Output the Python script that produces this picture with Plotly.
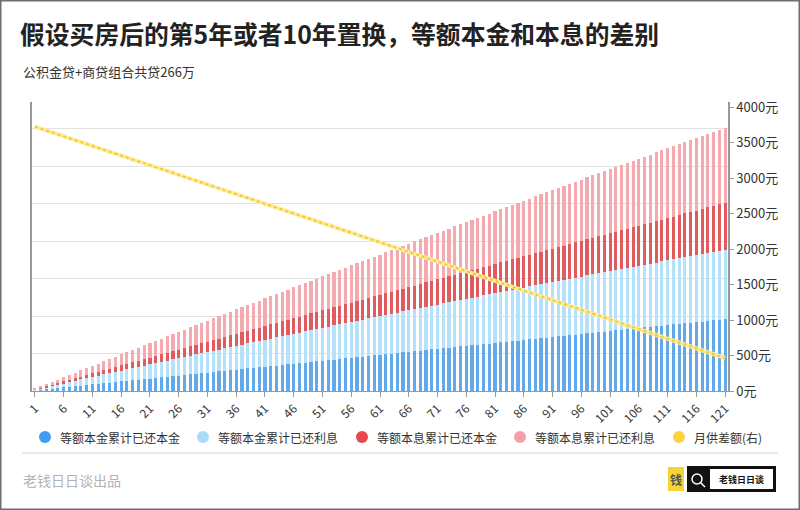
import plotly.graph_objects as go

# ---------------- data ----------------
months = list(range(1, 122))
tick_months = [1, 6, 11, 16, 21, 26, 31, 36, 41, 46, 51, 56, 61, 66, 71, 76, 81, 86, 91, 96,
               101, 106, 111, 116, 121]

# 等额本金累计已还本金 (万元)
ep_principal = [
    0.8, 1.6, 2.4, 3.2, 4.0, 4.8, 5.5, 6.3, 7.1, 7.9,
    8.7, 9.5, 10.3, 11.1, 11.9, 12.7, 13.5, 14.3, 15.0, 15.8,
    16.6, 17.4, 18.2, 19.0, 19.8, 20.6, 21.4, 22.2, 23.0, 23.8,
    24.5, 25.3, 26.1, 26.9, 27.7, 28.5, 29.3, 30.1, 30.9, 31.7,
    32.5, 33.3, 34.0, 34.8, 35.6, 36.4, 37.2, 38.0, 38.8, 39.6,
    40.4, 41.2, 42.0, 42.8, 43.5, 44.3, 45.1, 45.9, 46.7, 47.5,
    48.3, 49.1, 49.9, 50.7, 51.5, 52.3, 53.0, 53.8, 54.6, 55.4,
    56.2, 57.0, 57.8, 58.6, 59.4, 60.2, 61.0, 61.8, 62.5, 63.3,
    64.1, 64.9, 65.7, 66.5, 67.3, 68.1, 68.9, 69.7, 70.5, 71.3,
    72.0, 72.8, 73.6, 74.4, 75.2, 76.0, 76.8, 77.6, 78.4, 79.2,
    80.0, 80.8, 81.5, 82.3, 83.1, 83.9, 84.7, 85.5, 86.3, 87.1,
    87.9, 88.7, 89.5, 90.3, 91.0, 91.8, 92.6, 93.4, 94.2, 95.0,
    95.8]

# 等额本金累计已还利息 (万元)
ep_interest = [
    0.9, 1.9, 2.8, 3.7, 4.6, 5.5, 6.5, 7.4, 8.3, 9.2,
    10.1, 11.0, 11.9, 12.8, 13.7, 14.5, 15.4, 16.3, 17.2, 18.1,
    18.9, 19.8, 20.7, 21.5, 22.4, 23.3, 24.1, 25.0, 25.8, 26.7,
    27.5, 28.4, 29.2, 30.1, 30.9, 31.7, 32.6, 33.4, 34.2, 35.0,
    35.8, 36.7, 37.5, 38.3, 39.1, 39.9, 40.7, 41.5, 42.3, 43.1,
    43.9, 44.7, 45.5, 46.2, 47.0, 47.8, 48.6, 49.3, 50.1, 50.9,
    51.6, 52.4, 53.2, 53.9, 54.7, 55.4, 56.2, 56.9, 57.7, 58.4,
    59.1, 59.9, 60.6, 61.3, 62.0, 62.8, 63.5, 64.2, 64.9, 65.6,
    66.3, 67.0, 67.7, 68.4, 69.1, 69.8, 70.5, 71.2, 71.9, 72.6,
    73.3, 73.9, 74.6, 75.3, 76.0, 76.6, 77.3, 78.0, 78.6, 79.3,
    79.9, 80.6, 81.2, 81.9, 82.5, 83.1, 83.8, 84.4, 85.0, 85.7,
    86.3, 86.9, 87.5, 88.2, 88.8, 89.4, 90.0, 90.6, 91.2, 91.8,
    92.4]

# 等额本息累计已还本金 (万元)
ea_principal = [
    0.4, 0.8, 1.3, 1.7, 2.1, 2.5, 3.0, 3.4, 3.8, 4.2,
    4.7, 5.1, 5.6, 6.0, 6.4, 6.9, 7.3, 7.7, 8.2, 8.6,
    9.1, 9.5, 10.0, 10.4, 10.9, 11.3, 11.8, 12.3, 12.7, 13.2,
    13.6, 14.1, 14.6, 15.0, 15.5, 16.0, 16.5, 16.9, 17.4, 17.9,
    18.4, 18.8, 19.3, 19.8, 20.3, 20.8, 21.3, 21.8, 22.3, 22.7,
    23.2, 23.7, 24.3, 24.8, 25.3, 25.8, 26.3, 26.8, 27.3, 27.8,
    28.3, 28.8, 29.3, 29.9, 30.4, 30.9, 31.4, 32.0, 32.5, 33.0,
    33.5, 34.1, 34.6, 35.2, 35.7, 36.2, 36.8, 37.3, 37.9, 38.4,
    39.0, 39.5, 40.1, 40.7, 41.2, 41.8, 42.3, 42.9, 43.5, 44.0,
    44.6, 45.2, 45.8, 46.3, 46.9, 47.5, 48.1, 48.7, 49.2, 49.8,
    50.4, 51.0, 51.6, 52.2, 52.8, 53.4, 54.0, 54.6, 55.2, 55.8,
    56.4, 57.1, 57.7, 58.3, 58.9, 59.5, 60.2, 60.8, 61.4, 62.0,
    62.7]

# 等额本息累计已还利息 (万元)
ea_interest = [
    0.9, 1.9, 2.8, 3.7, 4.6, 5.6, 6.5, 7.4, 8.3, 9.2,
    10.1, 11.0, 12.0, 12.9, 13.8, 14.7, 15.6, 16.5, 17.4, 18.3,
    19.2, 20.1, 21.0, 21.9, 22.8, 23.7, 24.6, 25.5, 26.3, 27.2,
    28.1, 29.0, 29.9, 30.7, 31.6, 32.5, 33.4, 34.2, 35.1, 36.0,
    36.9, 37.7, 38.6, 39.4, 40.3, 41.2, 42.0, 42.9, 43.7, 44.6,
    45.4, 46.3, 47.1, 48.0, 48.8, 49.6, 50.5, 51.3, 52.2, 53.0,
    53.8, 54.7, 55.5, 56.3, 57.1, 58.0, 58.8, 59.6, 60.4, 61.3,
    62.1, 62.9, 63.7, 64.5, 65.3, 66.1, 66.9, 67.7, 68.5, 69.3,
    70.1, 70.9, 71.7, 72.5, 73.3, 74.0, 74.8, 75.6, 76.4, 77.2,
    78.0, 78.7, 79.5, 80.3, 81.0, 81.8, 82.6, 83.3, 84.1, 84.9,
    85.6, 86.3, 87.1, 87.8, 88.6, 89.3, 90.1, 90.8, 91.6, 92.3,
    93.0, 93.8, 94.5, 95.2, 95.9, 96.7, 97.4, 98.1, 98.8, 99.6,
    100.3]

# 月供差额 (元, 右轴)
pay_diff = [
    3723, 3696, 3669, 3642, 3614, 3587, 3560, 3533, 3506, 3479,
    3452, 3424, 3397, 3370, 3343, 3316, 3289, 3262, 3234, 3207,
    3180, 3153, 3126, 3099, 3071, 3044, 3017, 2990, 2963, 2936,
    2909, 2881, 2854, 2827, 2800, 2773, 2746, 2719, 2691, 2664,
    2637, 2610, 2583, 2556, 2528, 2501, 2474, 2447, 2420, 2393,
    2366, 2338, 2311, 2284, 2257, 2230, 2203, 2176, 2148, 2121,
    2094, 2067, 2040, 2013, 1985, 1958, 1931, 1904, 1877, 1850,
    1823, 1795, 1768, 1741, 1714, 1687, 1660, 1633, 1605, 1578,
    1551, 1524, 1497, 1470, 1442, 1415, 1388, 1361, 1334, 1307,
    1280, 1252, 1225, 1198, 1171, 1144, 1117, 1090, 1062, 1035,
    1008, 981, 954, 927, 899, 872, 845, 818, 791, 764,
    737, 709, 682, 655, 628, 601, 574, 547, 519, 492,
    465]

series_names = ["等额本金累计已还本金", "等额本金累计已还利息", "等额本息累计已还本金",
                "等额本息累计已还利息", "月供差额(右)"]
right_ticks = [0, 500, 1000, 1500, 2000, 2500, 3000, 3500, 4000]

# ---------------- styling ----------------
FONT = "Noto Sans CJK SC, Noto Sans, sans-serif"
bar_colors = ["#62a9e9", "#b6e1fa", "#e05a5e", "#f4aaae"]
legend_colors = ["#3d9df0", "#a9dbf8", "#e8474c", "#f3a1a6", "#fcd23f"]
legend_dot_x = [45, 203, 362, 520, 679]   # pixel centres of the legend dots
LEGEND_Y = 437

W, H = 800, 510
L, R, T, B = 32, 72, 102, 119
PW, PH = W - L - R, H - T - B


def px_x(x):
    return (x - L) / PW


def px_y(y):
    return (H - B - y) / PH


fig = go.Figure()

for vals, col, name in zip([ep_principal, ep_interest, ea_principal, ea_interest],
                           bar_colors, series_names[:4]):
    fig.add_trace(go.Bar(x=months, y=vals, name=name, marker_color=col,
                         marker_line_width=0, showlegend=False))

fig.add_trace(go.Scatter(x=months, y=pay_diff, yaxis="y2", mode="lines",
                         line=dict(color="#fbec9e", width=4), showlegend=False,
                         name=series_names[4]))
fig.add_trace(go.Scatter(x=months, y=pay_diff, yaxis="y2", mode="lines",
                         line=dict(color="#f6c933", width=2, dash="dot"), showlegend=False,
                         name=series_names[4]))

shapes = [
    # separator line under legend
    dict(type="line", xref="paper", yref="paper", x0=px_x(22), x1=px_x(778),
         y0=px_y(453), y1=px_y(453), line=dict(color="#e8e8e8", width=2)),
    # outer frame
    dict(type="rect", xref="paper", yref="paper", x0=px_x(0.5), x1=px_x(799.5),
         y0=px_y(509.5), y1=px_y(0.5), line=dict(color="#6e6e6e", width=2)),
    # logo: yellow icon
    dict(type="rect", xref="paper", yref="paper", x0=px_x(668), x1=px_x(684),
         y0=px_y(491), y1=px_y(467), fillcolor="#f6d432", line=dict(width=0)),
    # logo: black search box
    dict(type="rect", xref="paper", yref="paper", x0=px_x(687), x1=px_x(776),
         y0=px_y(492), y1=px_y(466), fillcolor="#111111", line=dict(width=0)),
    dict(type="rect", xref="paper", yref="paper", x0=px_x(710), x1=px_x(773),
         y0=px_y(489), y1=px_y(469), fillcolor="#ffffff", line=dict(width=0)),
    # magnifier
    dict(type="circle", xref="paper", yref="paper", x0=px_x(692), x1=px_x(702),
         y0=px_y(484), y1=px_y(474), line=dict(color="#ffffff", width=1.5)),
    dict(type="line", xref="paper", yref="paper", x0=px_x(700.5), x1=px_x(705),
         y0=px_y(482.5), y1=px_y(487), line=dict(color="#ffffff", width=1.5)),
]

annotations = [
    dict(text="公积金贷+商贷组合共贷266万", xref="paper", yref="paper",
         x=px_x(21), y=px_y(72), xanchor="left", yanchor="middle", showarrow=False,
         font=dict(size=13, color="#333333", family=FONT)),
    dict(text="老钱日日谈出品", xref="paper", yref="paper",
         x=px_x(21), y=px_y(480), xanchor="left", yanchor="middle", showarrow=False,
         font=dict(size=14, color="#b3b3b3", family=FONT)),
    dict(text="<b>钱</b>", xref="paper", yref="paper",
         x=px_x(676), y=px_y(479), xanchor="center", yanchor="middle", showarrow=False,
         font=dict(size=12, color="#555555", family=FONT)),
    dict(text="<b>老钱日日谈</b>", xref="paper", yref="paper",
         x=px_x(741.5), y=px_y(479), xanchor="center", yanchor="middle", showarrow=False,
         font=dict(size=9, color="#111111", family=FONT)),
]

# legend, drawn as round dots + labels at the reference positions
for name, col, cx in zip(series_names, legend_colors, legend_dot_x):
    shapes.append(dict(type="circle", xref="paper", yref="paper",
                       xsizemode="pixel", ysizemode="pixel",
                       xanchor=px_x(cx), yanchor=px_y(LEGEND_Y),
                       x0=-6, x1=6, y0=-6, y1=6,
                       fillcolor=col, line=dict(width=0)))
    annotations.append(dict(text=name, xref="paper", yref="paper",
                            x=px_x(cx + 13), y=px_y(LEGEND_Y), xanchor="left",
                            yanchor="middle", showarrow=False,
                            font=dict(size=12, color="#333333", family=FONT)))

fig.update_layout(
    width=W, height=H,
    margin=dict(l=L, r=R, t=T, b=B, pad=0),
    paper_bgcolor="#ffffff", plot_bgcolor="#ffffff",
    font=dict(family=FONT, color="#333333", size=12),
    barmode="stack", bargap=0.45, showlegend=False,
    title=dict(text="<b>假设买房后的第5年或者10年置换，等额本金和本息的差别</b>",
               x=20 / W, xref="container", xanchor="left",
               y=1 - 35 / H, yref="container", yanchor="middle",
               font=dict(size=24.8, color="#222222", family=FONT)),
    xaxis=dict(type="category", tickmode="array", tickvals=tick_months,
               ticktext=[str(m) for m in tick_months], tickangle=-45,
               ticks="outside", ticklen=5, tickcolor="#999999",
               showline=True, linecolor="#999999", linewidth=1, showgrid=False,
               tickfont=dict(size=12, color="#333333")),
    yaxis=dict(range=[0, 385.4], dtick=50, showticklabels=False, showgrid=True,
               gridcolor="#e2e2e2", gridwidth=1, zeroline=False,
               showline=True, linecolor="#999999", linewidth=1.5, ticks=""),
    yaxis2=dict(overlaying="y", side="right", range=[0, 4070.4],
                tickmode="array", tickvals=right_ticks,
                ticktext=[f"{v}元" for v in right_ticks],
                showgrid=False, zeroline=False, showline=True, linecolor="#999999",
                linewidth=1.5, ticks="outside", ticklen=4, tickcolor="#999999",
                tickfont=dict(size=13, color="#333333")),
    shapes=shapes, annotations=annotations,
    hovermode="x",
)

fig.write_html("out.html", config={"displayModeBar": False},
               post_script="document.body.style.margin='0';document.body.style.overflow='hidden';")
